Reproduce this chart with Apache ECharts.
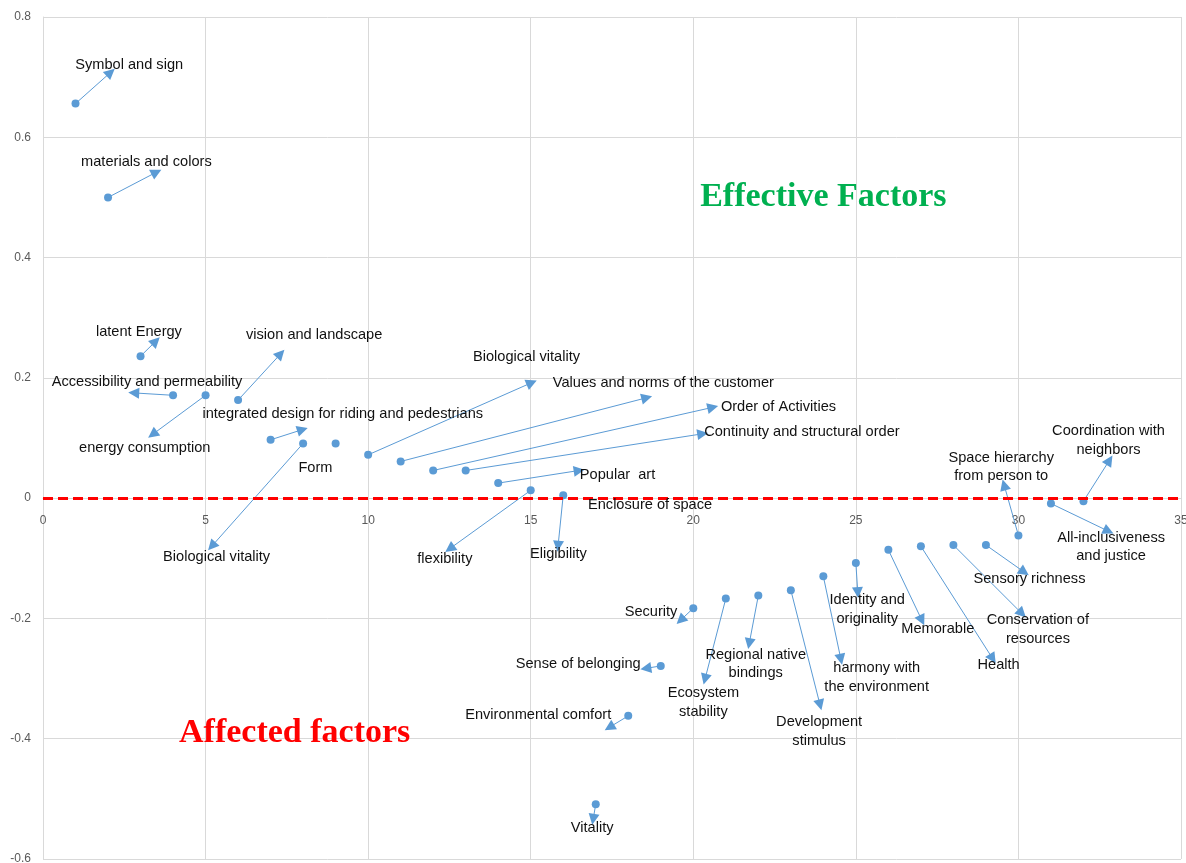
<!DOCTYPE html>
<html>
<head>
<meta charset="utf-8">
<script src="https://cdn.jsdelivr.net/npm/echarts@6/dist/echarts.min.js"></script>
<style>
html,body{margin:0;padding:0;background:#fff;}
#chart{width:1186px;height:863px;}
</style>
</head>
<body>
<div id="chart"></div>
<script>
// ---- data ----
const factorX = [1,2,3,4,5,6,7,8,9,10,11,12,13,14,15,16,17,18,19,20,21,22,23,24,25,26,27,28,29,30,31,32];
const factorY = [0.656,0.500,0.236,0.171,0.171,0.163,0.097,0.091,0.091,0.072,0.061,0.046,0.046,0.025,0.013,0.005,
                 -0.509,-0.362,-0.279,-0.183,-0.167,-0.162,-0.153,-0.130,-0.108,-0.086,-0.080,-0.078,-0.078,-0.062,-0.009,-0.005];
// arrow tips (data coordinates); null = no arrow
const arrowTipX = [2.08,3.49,3.47,2.79,3.37,7.31,7.98,5.19,null,15.03,18.57,20.60,20.29,16.49,12.51,15.84,
                   16.92,17.42,18.54,19.61,20.36,21.72,23.90,24.54,25.06,27.03,29.21,30.11,30.18,29.56,32.77,32.80];
const arrowTipY = [0.708,0.542,0.261,0.175,0.106,0.240,0.114,-0.080,null,0.192,0.167,0.151,0.107,0.046,-0.084,-0.080,
                   -0.534,-0.381,-0.283,-0.203,-0.301,-0.242,-0.344,-0.268,-0.157,-0.203,-0.267,-0.192,-0.123,0.022,-0.055,0.063];
const labelText = ["Symbol and sign","materials and colors","latent Energy","Accessibility and permeability","energy consumption",
  "vision and landscape","integrated design for riding and pedestrians","Biological vitality","Form","Biological vitality",
  "Values and norms of the customer","Order of Activities","Continuity and structural order","Popular  art","flexibility",
  "Eligibility","Enclosure of space","Vitality","Environmental comfort","Sense of belonging","Security",
  "Ecosystem\nstability","Regional native\nbindings","Development\nstimulus","harmony with\nthe environment",
  "Identity and\noriginality","Memorable","Health","Conservation of\nresources","Sensory richness",
  "Space hierarchy\nfrom person to","All-inclusiveness\nand justice","Coordination with\nneighbors"];
const labelX = [2.65,3.18,2.95,3.20,3.13,8.34,9.22,5.34,8.38,14.87,19.08,22.62,23.34,17.67,12.36,15.85,18.67,
                16.89,15.23,16.46,18.70,20.31,21.92,23.87,25.64,25.35,27.52,29.39,30.60,30.34,29.47,32.85,32.77];
const labelY = [0.720,0.559,0.277,0.193,0.084,0.271,0.140,-0.098,0.050,0.234,0.192,0.151,0.110,0.038,-0.101,-0.093,-0.011,
                -0.548,-0.361,-0.276,-0.189,-0.340,-0.276,-0.388,-0.298,-0.185,-0.217,-0.278,-0.218,-0.134,0.052,-0.081,0.096];
const thresholdY = 0.004;
const regionTitles = ["Effective Factors","Affected factors"];
const regionX = [24.0, 7.74];
const regionY = [0.500, -0.391];
const regionColors = ["#00B050","#FF0000"];
const xTicks = {min:0, max:35, interval:5};
const yTicks = {min:-0.6, max:0.8, interval:0.2};

// ---- build ----
const W = 1186, H = 863;
const gridBox = {left:43, right:5, top:17, bottom:4};
const plotH = H - gridBox.top - gridBox.bottom;
// move the x axis (line + labels) up to y = 0, as in the reference
const xAxisOffset = -plotH * (0 - yTicks.min) / (yTicks.max - yTicks.min);

const blue = '#5B9BD5';
const points = factorX.map((x,i)=>[x,factorY[i]]);
const arrows = [];
factorX.forEach((x,i)=>{
  if (arrowTipX[i] !== null) arrows.push({coords:[[x,factorY[i]],[arrowTipX[i],arrowTipY[i]]]});
});
const labels = labelText.map((t,i)=>({name:t, value:[labelX[i],labelY[i]]}));
const titles = regionTitles.map((t,i)=>({name:t, value:[regionX[i],regionY[i]],
  label:{color:regionColors[i]}}));

const chart = echarts.init(document.getElementById('chart'), null, {renderer:'canvas'});
chart.setOption({
  animation:false,
  backgroundColor:'#ffffff',
  grid:Object.assign({containLabel:false, outerBoundsMode:'none'}, gridBox),
  xAxis:{type:'value', min:xTicks.min, max:xTicks.max, interval:xTicks.interval,
    position:'bottom', offset:xAxisOffset,
    axisLine:{show:true, onZero:false, lineStyle:{color:'#d9d9d9', width:1}},
    axisTick:{show:false},
    axisLabel:{color:'#595959', fontSize:12, fontFamily:'Liberation Sans, Arial, sans-serif', margin:17},
    splitLine:{show:true, lineStyle:{color:'#d9d9d9', width:1}}},
  yAxis:{type:'value', min:yTicks.min, max:yTicks.max, interval:yTicks.interval,
    axisLine:{show:true, onZero:false, lineStyle:{color:'#d9d9d9', width:1}},
    axisTick:{show:false},
    axisLabel:{color:'#595959', fontSize:12, fontFamily:'Liberation Sans, Arial, sans-serif', margin:12},
    splitLine:{show:true, lineStyle:{color:'#d9d9d9', width:1}}},
  series:[
    {type:'lines', coordinateSystem:'cartesian2d', z:3, silent:true,
      symbol:['none','triangle'], symbolSize:[9,11],
      lineStyle:{color:blue, width:1, opacity:1, curveness:0},
      data:arrows},
    {type:'scatter', z:4, symbol:'circle', symbolSize:8, itemStyle:{color:blue, opacity:1},
      data:points,
      markLine:{silent:true, symbol:['none','none'], label:{show:false},
        lineStyle:{color:'#FF0000', width:3, type:[10,5], opacity:1},
        data:[{yAxis:thresholdY}]}},
    {type:'scatter', z:5, symbol:'circle', symbolSize:1, itemStyle:{color:'rgba(0,0,0,0)', opacity:1},
      silent:true,
      label:{show:true, position:'inside', formatter:'{b}', color:'#111111', opacity:1, fontSize:14.6,
        textBorderWidth:0,
        fontFamily:'Liberation Sans, Arial, sans-serif', lineHeight:18.5, align:'center', verticalAlign:'middle'},
      data:labels},
    {type:'scatter', z:5, symbol:'circle', symbolSize:1, itemStyle:{color:'rgba(0,0,0,0)', opacity:1},
      silent:true,
      label:{show:true, position:'inside', formatter:'{b}', fontSize:34, fontWeight:'bold', opacity:1,
        textBorderWidth:0,
        fontFamily:'Liberation Serif, Times New Roman, serif', align:'center', verticalAlign:'middle'},
      data:titles}
  ]
});
</script>
</body>
</html>
